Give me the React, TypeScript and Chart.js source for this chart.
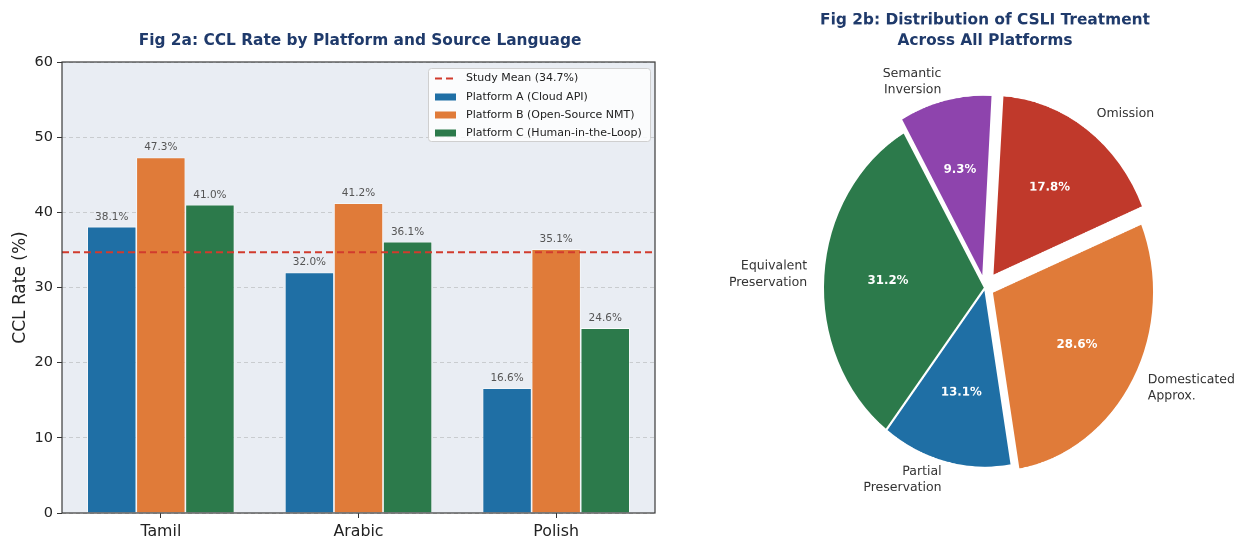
import React, { useEffect, useRef } from 'react';
import { Chart, registerables } from 'chart.js';

Chart.register(...registerables);
Chart.defaults.font.family = "'DejaVu Sans', 'Noto Sans', sans-serif";

// ---------- Data: Fig 2a ----------
const LANGUAGES = ['Tamil', 'Arabic', 'Polish'];
const PLATFORM_A = [38.1, 32.0, 16.6];
const PLATFORM_B = [47.3, 41.2, 35.1];
const PLATFORM_C = [41.0, 36.1, 24.6];
const SERIES_NAMES = [
  'Platform A (Cloud API)',
  'Platform B (Open-Source NMT)',
  'Platform C (Human-in-the-Loop)',
];
const STUDY_MEAN = 34.7;
const MEAN_LABEL = 'Study Mean (34.7%)';
const Y_MIN = 0;
const Y_MAX = 60;
const Y_STEP = 10;
const TITLE_A = 'Fig 2a: CCL Rate by Platform and Source Language';
const Y_TITLE = 'CCL Rate (%)';

// ---------- Data: Fig 2b (drawn clockwise from upper-left) ----------
const PIE_LABELS = [
  'Semantic\nInversion',
  'Omission',
  'Domesticated\nApprox.',
  'Partial\nPreservation',
  'Equivalent\nPreservation',
];
const PIE_VALUES = [9.3, 17.8, 28.6, 13.1, 31.2];
const TITLE_B = ['Fig 2b: Distribution of CSLI Treatment', 'Across All Platforms'];

// ---------- Styles ----------
const BAR_COLORS = ['#1f6fa5', '#e07b39', '#2c7a4b'];
const PIE_COLORS = ['#8e44ad', '#c0392b', '#e07b39', '#1f6fa5', '#2c7a4b'];
const PIE_EXPLODE_PX = [12, 14, 8, 0, 0];
const TITLE_COLOR = '#1f3a6b';
const MEAN_COLOR = '#d13b2d';
const FONT = "'DejaVu Sans', 'Noto Sans', sans-serif";
const PIE_STRETCH = 180 / 162; // vertical stretch of the pie panel

const BAR_W = 700;
const BAR_H = 540;
const PIE_W = 542;
const PIE_H_CSS = 540;
const PIE_H = Math.round(PIE_H_CSS / PIE_STRETCH);

function arcOffset(i: number): number {
  const total = PIE_VALUES.reduce((a, b) => a + b, 0);
  const circ = (2 * Math.PI * PIE_VALUES[i]) / total;
  const fix = 1 - Math.sin(Math.min(Math.PI, circ));
  return (PIE_EXPLODE_PX[i] * 4) / (1 + fix);
}

const barPlugin = {
  id: 'barDecor',
  beforeDraw(chart: any) {
    const { ctx, chartArea: a } = chart;
    ctx.save();
    ctx.fillStyle = '#e9edf3';
    ctx.fillRect(a.left, a.top, a.right - a.left, a.bottom - a.top);
    ctx.restore();
  },
  afterDatasetsDraw(chart: any) {
    const { ctx, chartArea: a, scales } = chart;
    // value labels
    ctx.save();
    ctx.font = `10.5px ${FONT}`;
    ctx.fillStyle = '#555';
    ctx.textAlign = 'center';
    ctx.textBaseline = 'alphabetic';
    chart.data.datasets.forEach((ds: any, di: number) => {
      const meta = chart.getDatasetMeta(di);
      meta.data.forEach((bar: any, i: number) => {
        const v = ds.data[i];
        ctx.fillText(`${v.toFixed(1)}%`, bar.x, bar.y - 7);
      });
    });
    ctx.restore();
    // mean line
    const y = scales.y.getPixelForValue(STUDY_MEAN);
    ctx.save();
    ctx.strokeStyle = MEAN_COLOR;
    ctx.lineWidth = 2;
    ctx.setLineDash([7, 4]);
    ctx.beginPath();
    ctx.moveTo(a.left, y);
    ctx.lineTo(a.right, y);
    ctx.stroke();
    ctx.restore();
  },
  afterDraw(chart: any) {
    const { ctx, chartArea: a } = chart;
    // spines
    ctx.save();
    ctx.strokeStyle = '#3a3a3a';
    ctx.lineWidth = 1.2;
    ctx.strokeRect(a.left, a.top, a.right - a.left, a.bottom - a.top);
    ctx.restore();
    // title
    ctx.save();
    ctx.font = `bold 15.4px ${FONT}`;
    ctx.fillStyle = TITLE_COLOR;
    ctx.textAlign = 'center';
    ctx.textBaseline = 'middle';
    ctx.fillText(TITLE_A, (a.left + a.right) / 2 + 1.5, 41);
    ctx.restore();
    // legend
    const bx = 428.5, by = 68.5, bw = 222, bh = 73;
    ctx.save();
    ctx.beginPath();
    ctx.roundRect(bx, by, bw, bh, 3);
    ctx.fillStyle = 'rgba(255,255,255,0.82)';
    ctx.fill();
    ctx.strokeStyle = '#cfcfcf';
    ctx.lineWidth = 1;
    ctx.stroke();
    const rows = [78.5, 97, 115, 133];
    const hx = 435, hw = 21, tx = 466;
    ctx.font = `11px ${FONT}`;
    ctx.textAlign = 'left';
    ctx.textBaseline = 'middle';
    // mean entry
    ctx.strokeStyle = MEAN_COLOR;
    ctx.lineWidth = 2;
    ctx.setLineDash([7, 4]);
    ctx.beginPath();
    ctx.moveTo(hx, rows[0]);
    ctx.lineTo(hx + hw, rows[0]);
    ctx.stroke();
    ctx.setLineDash([]);
    ctx.fillStyle = '#222';
    ctx.fillText(MEAN_LABEL, tx, rows[0]);
    SERIES_NAMES.forEach((name, i) => {
      const ry = rows[i + 1];
      ctx.fillStyle = BAR_COLORS[i];
      ctx.fillRect(hx, ry - 3.5, hw, 7);
      ctx.fillStyle = '#222';
      ctx.fillText(name, tx, ry);
    });
    ctx.restore();
  },
};

function stretchedText(
  ctx: CanvasRenderingContext2D,
  lines: string[],
  x: number,
  y: number,
  align: CanvasTextAlign,
  font: string,
  color: string,
  lh: number
) {
  ctx.save();
  ctx.translate(x, y);
  ctx.scale(1, 1 / PIE_STRETCH);
  ctx.font = font;
  ctx.fillStyle = color;
  ctx.textAlign = align;
  ctx.textBaseline = 'middle';
  lines.forEach((l, i) => ctx.fillText(l, 0, (i - (lines.length - 1) / 2) * lh));
  ctx.restore();
}

const piePlugin = {
  id: 'pieDecor',
  afterDraw(chart: any) {
    const { ctx } = chart;
    const meta = chart.getDatasetMeta(0);
    const vals = chart.data.datasets[0].data as number[];
    meta.data.forEach((arc: any, i: number) => {
      const { x, y, startAngle, endAngle, outerRadius } = arc.getProps(
        ['x', 'y', 'startAngle', 'endAngle', 'outerRadius'],
        true
      );
      const mid = (startAngle + endAngle) / 2;
      const circ = endAngle - startAngle;
      const fix = 1 - Math.sin(Math.min(Math.PI, circ));
      const shift = ((arc.options.offset || 0) / 4) * (1 + fix);
      const c = Math.cos(mid);
      const s = Math.sin(mid);
      const pr = shift + 0.6 * outerRadius;
      stretchedText(ctx, [`${vals[i].toFixed(1)}%`], x + c * pr, y + s * pr, 'center', `bold 11.8px ${FONT}`, '#ffffff', 14);
      const lr = shift + 1.1 * outerRadius;
      stretchedText(
        ctx,
        PIE_LABELS[i].split('\n'),
        x + c * lr,
        y + s * lr,
        c < 0 ? 'right' : 'left',
        `12.5px ${FONT}`,
        '#333333',
        16.5
      );
    });
    stretchedText(ctx, TITLE_B, 285, 30.75 / PIE_STRETCH, 'center', `bold 15.4px ${FONT}`, TITLE_COLOR, 20.5);
  },
};

export default function App() {
  const barRef = useRef<HTMLCanvasElement | null>(null);
  const pieRef = useRef<HTMLCanvasElement | null>(null);

  useEffect(() => {
    document.body.style.margin = '0';
    const series = [PLATFORM_A, PLATFORM_B, PLATFORM_C];
    const bar = new Chart(barRef.current as HTMLCanvasElement, {
      type: 'bar',
      data: {
        labels: LANGUAGES,
        datasets: series.map((d, i) => ({
          label: SERIES_NAMES[i],
          data: d,
          backgroundColor: BAR_COLORS[i],
          borderColor: 'rgba(255,255,255,0.85)',
          borderWidth: 0.8,
          categoryPercentage: 0.745,
          barPercentage: 1,
        })),
      },
      options: {
        responsive: false,
        animation: false,
        devicePixelRatio: 1,
        layout: { padding: { left: 0, right: 45, top: 62, bottom: 0 } },
        plugins: {
          legend: { display: false },
          title: { display: false },
          tooltip: { enabled: false },
        },
        scales: {
          x: {
            offset: true,
            grid: {
              display: true,
              offset: false,
              drawOnChartArea: false,
              drawTicks: true,
              tickLength: 5,
              tickColor: '#333',
              tickWidth: 1,
            },
            border: { display: false },
            ticks: { color: '#222', font: { size: 15.8 }, padding: 4 },
            afterFit: (s: any) => {
              s.height = 27;
            },
          },
          y: {
            min: Y_MIN,
            max: Y_MAX,
            ticks: { stepSize: Y_STEP, color: '#222', font: { size: 14.5 }, padding: 4 },
            grid: {
              color: 'rgba(160,160,160,0.55)',
              lineWidth: 0.8,
              tickColor: '#333',
              tickLength: 5,
              tickWidth: 1,
              tickBorderDash: [],
              borderDash: [4, 3],
            } as any,
            border: { display: false, dash: [4, 3] },
            title: {
              display: true,
              text: Y_TITLE,
              color: '#222',
              font: { size: 17 },
              padding: { top: 10.5, bottom: 0 },
            },
            afterFit: (s: any) => {
              s.width = 62;
            },
          },
        },
      } as any,
      plugins: [barPlugin],
    });

    const pie = new Chart(pieRef.current as HTMLCanvasElement, {
      type: 'pie',
      data: {
        labels: PIE_LABELS.map((l) => l.replace('\n', ' ')),
        datasets: [
          {
            data: PIE_VALUES,
            backgroundColor: PIE_COLORS,
            borderColor: '#ffffff',
            borderWidth: 2,
            offset: (c: any) => arcOffset(c.dataIndex),
          } as any,
        ],
      },
      options: {
        responsive: false,
        animation: false,
        devicePixelRatio: 2,
        rotation: -30,
        radius: 162,
        layout: { padding: { left: 28, right: 0, top: 32, bottom: 0 } },
        plugins: {
          legend: { display: false },
          title: { display: false },
          tooltip: { enabled: false },
        },
      } as any,
      plugins: [piePlugin],
    });

    return () => {
      bar.destroy();
      pie.destroy();
    };
  }, []);

  return (
    <div
      style={{
        position: 'absolute',
        left: 0,
        top: 0,
        width: 1242,
        height: 540,
        background: '#ffffff',
        overflow: 'hidden',
      }}
    >
      <canvas
        ref={barRef}
        width={BAR_W}
        height={BAR_H}
        style={{ position: 'absolute', left: 0, top: 0, width: `${BAR_W}px`, height: `${BAR_H}px` }}
      />
      <canvas
        ref={pieRef}
        width={PIE_W}
        height={PIE_H}
        style={{ position: 'absolute', left: 700, top: 0, width: `${PIE_W}px`, height: `${PIE_H_CSS}px` }}
      />
    </div>
  );
}
